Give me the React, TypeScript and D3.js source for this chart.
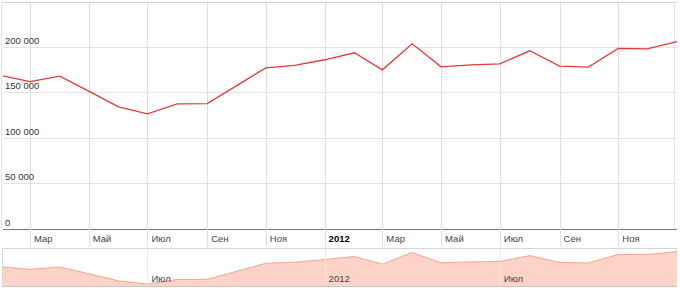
import React from "react";
import * as d3 from "d3";

const months: string[] = [
  "2011-02", "2011-03", "2011-04", "2011-05", "2011-06", "2011-07", "2011-08", "2011-09",
  "2011-10", "2011-11", "2011-12", "2012-01", "2012-02", "2012-03", "2012-04", "2012-05",
  "2012-06", "2012-07", "2012-08", "2012-09", "2012-10", "2012-11", "2012-12", "2013-01",
];
const values: number[] = [
  168300, 162000, 168000, 151500, 134000, 126300, 137300, 137700,
  157000, 177100, 179700, 186000, 193700, 174900, 203600, 178200,
  180400, 181500, 195900, 179000, 177900, 198500, 198100, 205900,
];
const yTicks: number[] = [0, 50000, 100000, 150000, 200000];
const xTickMonths: string[] = [
  "2011-03", "2011-05", "2011-07", "2011-09", "2011-11", "2012-01",
  "2012-03", "2012-05", "2012-07", "2012-09", "2012-11",
];
const xTickLabels: string[] = ["Мар", "Май", "Июл", "Сен", "Ноя", "2012", "Мар", "Май", "Июл", "Сен", "Ноя"];
const navTickMonths: string[] = ["2011-07", "2012-01", "2012-07"];
const navTickLabels: string[] = ["Июл", "2012", "Июл"];

const parse = (s: string) => d3.timeParse("%Y-%m")(s) as Date;

export default function App() {
  const W = 680, H = 290;
  const left = 3, right = 677;
  const top = 2.5, bottom = 228.5;
  const navTop = 248, navBottom = 286;
  const font = "Arial, 'Liberation Sans', sans-serif";

  const dates = months.map(parse);
  const x = d3.scaleTime().domain([parse("2011-02"), parse("2013-01")]).range([left, right]);
  const y = d3.scaleLinear().domain([0, 250000]).range([bottom, top - 0.8]);
  const ext = d3.extent(values) as [number, number];
  const yn = d3.scaleLinear().domain(ext).range([284, 251.5]);

  const data = dates.map((d, i) => ({ d, v: values[i] }));
  const line = d3.line<{ d: Date; v: number }>().x((p) => x(p.d)).y((p) => y(p.v));
  const area = d3
    .area<{ d: Date; v: number }>()
    .x((p) => x(p.d))
    .y0(navBottom)
    .y1((p) => yn(p.v));
  const navLine = d3.line<{ d: Date; v: number }>().x((p) => x(p.d)).y((p) => yn(p.v));
  const fmt = (v: number) => d3.format(",")(v).replace(/,/g, " ");

  return (
    <svg width={W} height={H} style={{ position: "absolute", left: 0, top: 0 }} fontFamily={font}>
      <rect x={0} y={0} width={W} height={H} fill="#fff" />
      {/* horizontal grid */}
      {yTicks.map((t) => (
        <line key={"h" + t} x1={left} x2={right} y1={Math.round(y(t)) + 0.5} y2={Math.round(y(t)) + 0.5}
          stroke={t === 0 ? "#777" : "#e3e3e3"} strokeWidth={1} />
      ))}
      {/* vertical grid */}
      {xTickMonths.map((m) => {
        const xx = Math.round(x(parse(m))) + 0.5;
        return <line key={"v" + m} x1={xx} x2={xx} y1={top} y2={navTop - 1} stroke="#dedede" strokeWidth={1} />;
      })}
      {/* frame */}
      <line x1={left - 1} x2={right} y1={top} y2={top} stroke="#d0d0d0" strokeWidth={1} />
      <line x1={left - 1.5} x2={left - 1.5} y1={top} y2={bottom} stroke="#e3e3e3" strokeWidth={1} />
      <line x1={right - 2.5} x2={right - 2.5} y1={top} y2={bottom} stroke="#e3e3e3" strokeWidth={1} />
      {/* y labels */}
      {yTicks.map((t) => (
        <text key={"yl" + t} x={5} y={y(t) - 3} fontSize={9.5} fill="#333">{fmt(t)}</text>
      ))}
      {/* x labels */}
      {xTickMonths.map((m, i) => (
        <text key={"xl" + m} x={x(parse(m)) + 4} y={242} fontSize={9.5}
          fill={xTickLabels[i] === "2012" ? "#000" : "#444"} fontWeight={xTickLabels[i] === "2012" ? "bold" : "normal"}>
          {xTickLabels[i]}
        </text>
      ))}
      {/* main line */}
      <path d={line(data) || ""} fill="none" stroke="#e23a3a" strokeWidth={1.3} />
      {/* navigator */}
      <rect x={left - 0.5} y={navTop + 0.5} width={right - left} height={navBottom - navTop} fill="#fff" stroke="#d6d6d6" />
      <path d={area(data) || ""} fill="#fdd3c7" stroke="none" />
      <path d={navLine(data) || ""} fill="none" stroke="#f3a593" strokeWidth={1} />
      {navTickMonths.map((m, i) => {
        const xx = Math.round(x(parse(m))) + 0.5;
        return (
          <g key={"n" + i}>
            <line x1={xx} x2={xx} y1={navTop + 1} y2={navBottom} stroke="#f7e3dd" strokeWidth={1} />
            <text x={x(parse(m)) + 4} y={282} fontSize={9.5} fill="#444">{navTickLabels[i]}</text>
          </g>
        );
      })}
      <line x1={left - 1} x2={right} y1={navBottom + 0.5} y2={navBottom + 0.5} stroke="#c8c8c8" />
    </svg>
  );
}
